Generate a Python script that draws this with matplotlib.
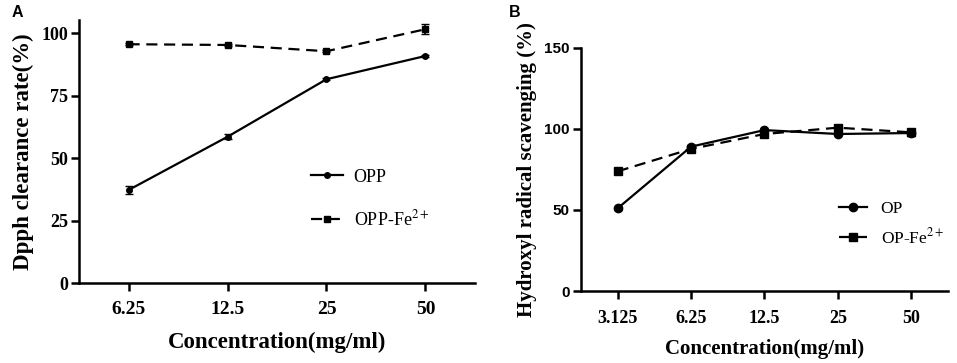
import matplotlib
matplotlib.use("Agg")
import matplotlib.pyplot as plt
import numpy as np

plt.rcParams["mathtext.fontset"] = "stix"

SERIF = "Liberation Serif"
SANS = "Liberation Sans"

# Panel A: DPPH clearance
conc_a = ["6.25", "12.5", "25", "50"]
opp = [37.3, 58.6, 81.6, 90.9]
opp_err = [1.6, 1.0, 0.4, 0.4]
opp_fe = [95.6, 95.3, 92.8, 101.6]
opp_fe_err = [0.4, 0.3, 0.4, 2.0]

# Panel B: hydroxyl radical scavenging
conc_b = ["3.125", "6.25", "12.5", "25", "50"]
op = [51.0, 89.0, 99.2, 96.8, 97.4]
op_err = [0.8, 0.8, 0.8, 0.8, 1.5]
op_fe = [73.8, 87.6, 96.8, 100.7, 97.8]
op_fe_err = [0.8, 0.8, 0.8, 0.8, 2.2]

fig = plt.figure(figsize=(9.57, 3.63), dpi=100)
ax_a = fig.add_axes([0.0826, 0.2195, 0.4137, 0.7255])
ax_b = fig.add_axes([0.6071, 0.1983, 0.3835, 0.6703])


def style_axis(ax):
    ax.spines[["top", "right"]].set_visible(False)
    for side in ["left", "bottom"]:
        ax.spines[side].set_linewidth(1.8)
    ax.tick_params(direction="out", length=6, width=1.8)


# ---- A ----
xa = np.arange(len(conc_a))
eb1 = ax_a.errorbar(xa, opp, yerr=opp_err, color="black", lw=1.6, marker="o",
                    ms=4, capsize=3, elinewidth=1.2)
eb2 = ax_a.errorbar(xa, opp_fe, yerr=opp_fe_err, color="black", lw=1.6,
                    marker="s", ms=4.5, capsize=3, elinewidth=1.2,
                    ls=(0, (5, 3)))
ax_a.set_xlim(-0.5, 3.5)
ax_a.set_ylim(0, 105.3)
ax_a.set_xticks(xa)
ax_a.set_xticklabels(conc_a)
ax_a.set_yticks([0, 25, 50, 75, 100])
style_axis(ax_a)
ax_a.tick_params(axis="x", pad=7)
ax_a.tick_params(axis="y", pad=2)
for lab in ax_a.get_xticklabels():
    lab.set_fontfamily(SERIF)
    lab.set_fontweight("bold")
    lab.set_fontsize(14)
for lab in ax_a.get_yticklabels():
    lab.set_fontfamily(SERIF)
    lab.set_fontweight("bold")
    lab.set_fontsize(13)
ax_a.set_xlabel("Concentration(mg/ml)", family=SERIF, weight="bold",
                fontsize=16.5, labelpad=10)
ax_a.set_ylabel("Dpph clearance rate(%)", family=SERIF, weight="bold",
                fontsize=16.5, labelpad=5)
ax_a.legend(handles=[eb1[0], eb2[0]], labels=["OPP", "OPP-Fe$^{2+}$"],
            loc="center left", bbox_to_anchor=(0.545, 0.32), frameon=False,
            prop={"family": SERIF, "size": 13}, handlelength=1.75,
            labelspacing=1.3, handletextpad=0.6)
fig.text(0.012, 0.985, "A", family=SANS, weight="bold", fontsize=11.5,
         va="top")

# ---- B ----
xb = np.arange(len(conc_b))
eb3 = ax_b.errorbar(xb, op, yerr=op_err, color="black", lw=1.6, marker="o",
                    ms=6, capsize=3, elinewidth=1.2)
eb4 = ax_b.errorbar(xb, op_fe, yerr=op_fe_err, color="black", lw=1.6,
                    marker="s", ms=6, capsize=3, elinewidth=1.2,
                    ls=(0, (5, 3)))
ax_b.set_xlim(-0.5, 4.5)
ax_b.set_ylim(0, 150)
ax_b.set_xticks(xb)
ax_b.set_xticklabels(conc_b)
ax_b.set_yticks([0, 50, 100, 150])
style_axis(ax_b)
ax_b.tick_params(axis="x", pad=8)
ax_b.tick_params(axis="y", pad=2)
for lab in ax_b.get_xticklabels():
    lab.set_fontfamily(SERIF)
    lab.set_fontweight("bold")
    lab.set_fontsize(13)
for lab in ax_b.get_yticklabels():
    lab.set_fontfamily(SANS)
    lab.set_fontweight("bold")
    lab.set_fontsize(11)
ax_b.set_xlabel("Concentration(mg/ml)", family=SERIF, weight="bold",
                fontsize=15, labelpad=8)
ax_b.set_ylabel("Hydroxyl radical scavenging (%)", family=SERIF,
                weight="bold", fontsize=15, labelpad=5)
ax_b.legend(handles=[eb3[0], eb4[0]], labels=["OP", "OP-Fe$^{2+}$"],
            loc="center left", bbox_to_anchor=(0.66, 0.275), frameon=False,
            prop={"family": SERIF, "size": 12.5}, handlelength=1.6,
            labelspacing=0.6, handletextpad=0.8)
fig.text(0.532, 0.985, "B", family=SANS, weight="bold", fontsize=11.5,
         va="top")

fig.savefig("out.png", dpi=100)
